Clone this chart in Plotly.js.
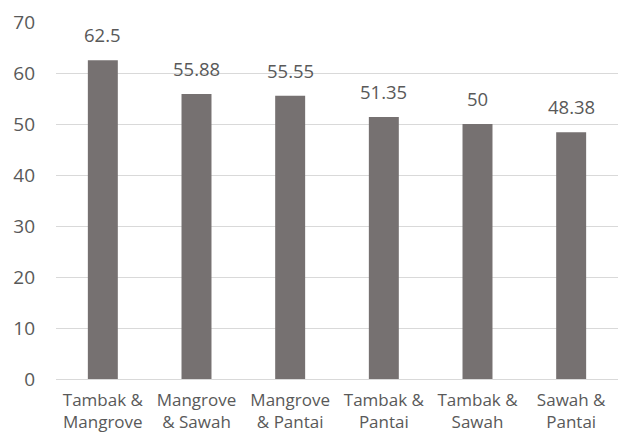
<!DOCTYPE html>
<html>
<head>
<meta charset="utf-8">
<script src="https://cdn.plot.ly/plotly-3.0.1.min.js"></script>
<style>html,body{margin:0;padding:0;background:#fff;}#chart{width:620px;height:441px;}</style>
</head>
<body>
<div id="chart"></div>
<script>
const categories = ["Tambak & Mangrove", "Mangrove & Sawah", "Mangrove & Pantai", "Tambak & Pantai", "Tambak & Sawah", "Sawah & Pantai"];
const tickLabels = ["Tambak &<br>Mangrove", "Mangrove<br>& Sawah", "Mangrove<br>& Pantai", "Tambak &<br>Pantai", "Tambak &<br>Sawah", "Sawah &<br>Pantai"];
const values = [62.5, 55.88, 55.55, 51.35, 50, 48.38];
const valueLabels = ["62.5", "55.88", "55.55", "51.35", "50", "48.38"];

const textColor = "#595959";
const font = "Open Sans, sans-serif";

const trace = {
  type: "bar",
  x: categories,
  y: values,
  marker: {color: "#767171"},
  hoverinfo: "none"
};

const annotations = categories.map((c, i) => ({
  x: c, y: values[i], text: valueLabels[i],
  xref: "x", yref: "y", showarrow: false,
  yanchor: "bottom", yshift: 11,
  font: {family: font, size: 18.5, color: textColor}
}));

const layout = {
  width: 620, height: 441,
  margin: {l: 56, r: 2, t: 22, b: 62, pad: 0},
  paper_bgcolor: "#fff", plot_bgcolor: "#fff",
  showlegend: false,
  bargap: 0.68,
  xaxis: {
    tickmode: "array", tickvals: categories, ticktext: tickLabels,
    showgrid: false, zeroline: false, showline: false, ticks: "",
    ticklabelstandoff: 9,
    tickfont: {family: font, size: 17, color: textColor}
  },
  yaxis: {
    range: [0, 70], dtick: 10, tick0: 0,
    showgrid: true, gridcolor: "#d9d9d9", gridwidth: 1,
    zeroline: true, zerolinecolor: "#d9d9d9", zerolinewidth: 1,
    showline: false, ticks: "",
    ticklabelstandoff: 20,
    tickfont: {family: font, size: 19, color: textColor}
  },
  annotations: annotations
};

Plotly.newPlot("chart", [trace], layout, {displayModeBar: false, staticPlot: true});
</script>
</body>
</html>
